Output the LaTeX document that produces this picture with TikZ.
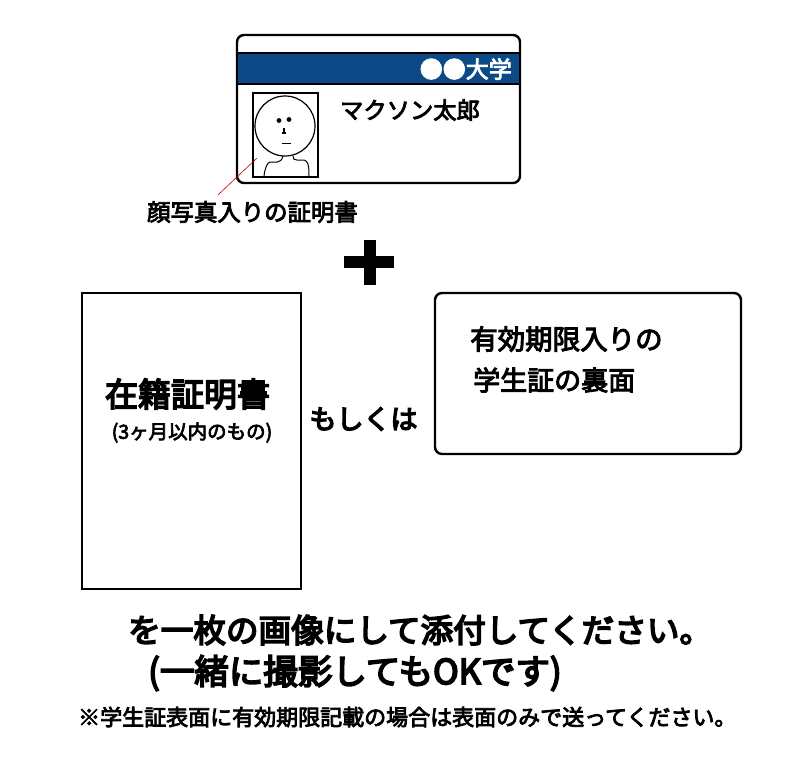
\documentclass[tikz,border=0pt]{standalone}
\usepackage{fontspec}
\newfontfamily\cjk{Noto Sans CJK JP}[FakeBold=5]
\newfontfamily\cjksmall{Noto Sans CJK JP}[FakeBold=3.6]
\definecolor{bandblue}{HTML}{0B4A86}
\tikzset{
  box/.style={draw=black, line width=2.4pt, fill=white, inner sep=0pt},
  label/.style={font=\cjk, inner sep=0pt, text=black},
}
\usetikzlibrary{positioning}
\begin{document}
\begin{tikzpicture}[x=1pt, y=-1pt]
\useasboundingbox (0,0) rectangle (800,760);
% Carte
\node[box, rounded corners=7pt, minimum width=283pt, minimum height=148pt] (card) at (378.5,109) {};
\node[draw=black, line width=2.2pt, fill=bandblue, inner sep=0pt, minimum width=283pt, minimum height=31pt] (band) at (378.5,68.5) {};
\node[label, text=white, font=\cjksmall\fontsize{23}{23}\selectfont, anchor=east] (univ) at (512,69) {●●大学};
\node[label, font=\cjksmall\fontsize{23.3}{23.3}\selectfont] (name) at (410,110) {マクソン太郎};
% Photo
\node[draw=black, line width=1.5pt, inner sep=0pt, minimum width=65pt, minimum height=84pt] (photo) at (285.5,135) {};
\node[draw=black, circle, line width=1.2pt, inner sep=0pt, minimum size=60pt] (head) at (285,126) {};
\fill (279,120.5) circle (2.4pt) (289,119.5) circle (2.4pt);
\draw[line width=1.1pt] (284,128) -- (284,133) (281.5,133) -- (286,133);
\draw[line width=1.2pt] (282,143.5) -- (291,143.5);
\draw[line width=1pt] (264,176) .. controls (265,168) and (267,163) .. (270,162) -- (277,162) .. controls (281,161) and (283,159) .. (283,156);
\draw[line width=1pt] (293,156) .. controls (293,159) and (294,160) .. (297,160) -- (304,160) .. controls (308,161) and (309,165) .. (309,176);
% Renvoi
\node[label, font=\cjksmall\fontsize{23.4}{23.4}\selectfont] (photolabel) at (252.5,212) {顔写真入りの証明書};
\coordinate (leaderstart) at (257,158);
\coordinate (leaderend) at (218,195);
\draw[red!75!black, line width=0.6pt] (leaderstart) -- (leaderend);
% Plus
\fill (344,255.5) rectangle (394,267.5);
\fill (363.5,240) rectangle (375.5,285);
% Documents
\node[box, minimum width=219pt, minimum height=296pt] (certif) at (191.5,441) {};
\node[label, font=\cjk\fontsize{33}{33}\selectfont] (certiftitle) at (187.5,394) {在籍証明書};
\node[label, font=\cjksmall\fontsize{19.5}{19.5}\selectfont] (certifnote) at (192,432.5) {(3ヶ月以内のもの)};
\node[label, font=\cjk\fontsize{27}{27}\selectfont] (ou) at (363.5,419) {もしくは};
\node[box, rounded corners=7pt, minimum width=306pt, minimum height=161pt] (back) at (588,373.5) {};
\node[label, font=\cjksmall\fontsize{27.5}{27.5}\selectfont, anchor=west] (backone) at (470,339) {有効期限入りの};
\node[label, font=\cjksmall\fontsize{27}{27}\selectfont, anchor=west] (backtwo) at (473,380) {学生証の裏面};
% Consignes
\node[label, font=\cjk\fontsize{32.6}{32.6}\selectfont, anchor=west] (lineone) at (128,630) {を一枚の画像にして添付してください。};
\node[label, font=\cjk\fontsize{34.5}{34.5}\selectfont, anchor=west] (linetwo) at (148,673) {(一緒に撮影してもOKです)};
\node[label, font=\cjksmall\fontsize{22}{22}\selectfont, anchor=west] (linethree) at (78,717) {※学生証表面に有効期限記載の場合は表面のみで送ってください。};
\end{tikzpicture}
\end{document}
